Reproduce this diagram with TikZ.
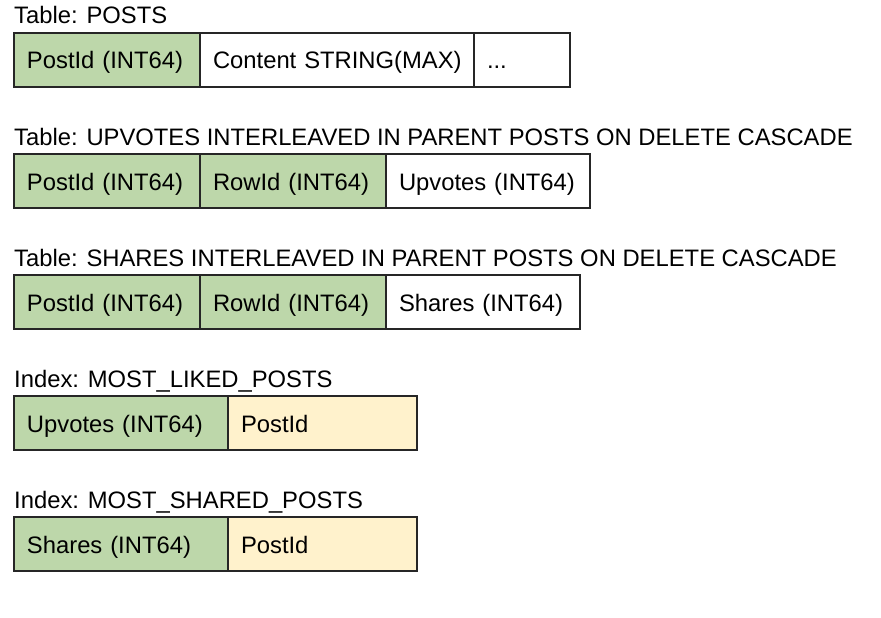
\documentclass[tikz,border=0pt]{standalone}
\usepackage{fontspec}
\setmainfont{Liberation Sans}
\usetikzlibrary{positioning}

\definecolor{keygreen}{RGB}{189,215,170}
\definecolor{idxyellow}{HTML}{FFF2CC}
\tikzset{
  cell/.style={draw=black!85, line width=1.2pt, minimum height=54pt, inner xsep=13pt, inner ysep=0pt, outer sep=0pt, align=left, text height=18pt, text depth=0pt, font=\fontsize{23.8}{28}\selectfont},
  keycell/.style={cell, fill=keygreen},
  idxcell/.style={cell, fill=idxyellow},
  plaincell/.style={cell, fill=white},
  caption/.style={inner sep=0pt, anchor=base west, font=\fontsize{23.8}{28}\selectfont}
}

\begin{document}
\begin{tikzpicture}[x=1pt, y=-1pt, node distance=0pt]
\useasboundingbox (0,0) rectangle (881,618);

% Table: POSTS
\node[keycell, text width=160pt, anchor=north west] (postsId) at (14,33) {PostId (INT64)};
\node[plaincell, text width=248pt, right=of postsId] (postsContent) {\mbox{Content STRING(MAX)}};
\node[plaincell, text width=70pt, right=of postsContent] (postsMore) {...};
\node[caption] (postsTitle) at ([yshift=9pt]postsId.north west) {Table: POSTS};

% Table: UPVOTES
\node[keycell, text width=160pt, anchor=north west] (upId) at (14,154) {PostId (INT64)};
\node[keycell, text width=160pt, right=of upId] (upRow) {RowId (INT64)};
\node[plaincell, text width=178pt, right=of upRow] (upVal) {Upvotes (INT64)};
\node[caption] (upTitle) at ([yshift=9pt]upId.north west) {Table: UPVOTES INTERLEAVED IN PARENT POSTS ON DELETE CASCADE};

% Table: SHARES
\node[keycell, text width=160pt, anchor=north west] (shId) at (14,275) {PostId (INT64)};
\node[keycell, text width=160pt, right=of shId] (shRow) {RowId (INT64)};
\node[plaincell, text width=168pt, right=of shRow] (shVal) {Shares (INT64)};
\node[caption] (shTitle) at ([yshift=9pt]shId.north west) {Table: SHARES INTERLEAVED IN PARENT POSTS ON DELETE CASCADE};

% Index: MOST_LIKED_POSTS
\node[keycell, text width=188pt, anchor=north west] (likedKey) at (14,396) {Upvotes (INT64)};
\node[idxcell, text width=163pt, right=of likedKey] (likedId) {PostId};
\node[caption] (likedTitle) at ([yshift=9pt]likedKey.north west) {Index: MOST\_LIKED\_POSTS};

% Index: MOST_SHARED_POSTS
\node[keycell, text width=188pt, anchor=north west] (sharedKey) at (14,517) {Shares (INT64)};
\node[idxcell, text width=163pt, right=of sharedKey] (sharedId) {PostId};
\node[caption] (sharedTitle) at ([yshift=9pt]sharedKey.north west) {Index: MOST\_SHARED\_POSTS};
\end{tikzpicture}
\end{document}
